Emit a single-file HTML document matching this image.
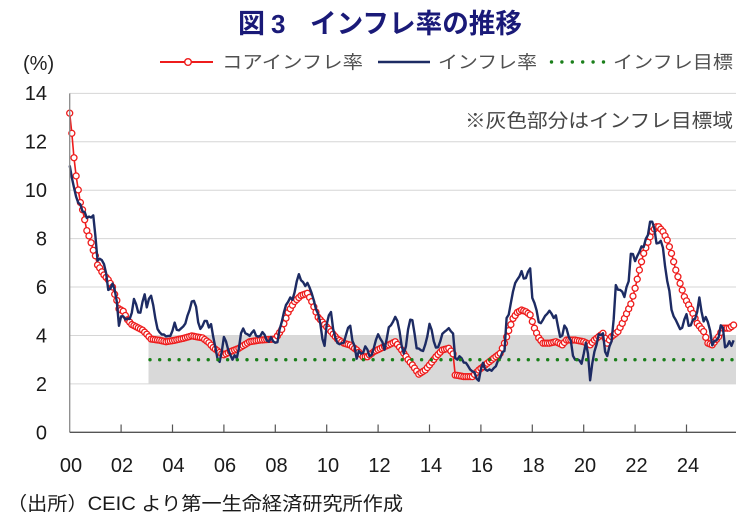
<!DOCTYPE html>
<html><head><meta charset="utf-8"><style>
html,body{margin:0;padding:0;background:#fff;}
svg{display:block;}
text{font-family:"Liberation Sans","Noto Sans CJK JP",sans-serif;}
</style></head><body>
<svg id="s" width="750" height="529" viewBox="0 0 750 529" xmlns="http://www.w3.org/2000/svg">
<rect width="750" height="529" fill="#fff"/>
<!-- title -->
<text x="238" y="33" font-size="27" font-weight="bold" fill="#1a1a78">図</text>
<text x="271" y="33" font-size="26" font-weight="bold" fill="#1a1a78">3</text>
<text x="310" y="33" font-size="27" font-weight="bold" fill="#1a1a78" textLength="212" lengthAdjust="spacingAndGlyphs">インフレ率の推移</text>
<!-- legend -->
<text x="23" y="70" font-size="20" fill="#222">(%)</text>
<line x1="160" y1="62" x2="213" y2="62" stroke="#ee1c1c" stroke-width="2"/>
<circle cx="188" cy="62" r="3.3" fill="#fff" stroke="#ee1c1c" stroke-width="1.4"/>
<text x="222" y="68.5" font-size="18" fill="#505050" textLength="141" lengthAdjust="spacingAndGlyphs">コアインフレ率</text>
<line x1="378" y1="62" x2="430" y2="62" stroke="#1d2b63" stroke-width="2.4"/>
<text x="438" y="68.5" font-size="18" fill="#505050" textLength="99" lengthAdjust="spacingAndGlyphs">インフレ率</text>
<line x1="551.5" y1="62" x2="604" y2="62" stroke="#1a7f1a" stroke-width="3.4" stroke-linecap="round" stroke-dasharray="0 10.4"/>
<text x="613" y="68.5" font-size="18" fill="#505050" textLength="120" lengthAdjust="spacingAndGlyphs">インフレ目標</text>
<!-- gridlines -->
<g stroke="#d6d6d6" stroke-width="1">
<line x1="70" y1="93.4" x2="736" y2="93.4"/>
<line x1="70" y1="141.8" x2="736" y2="141.8"/>
<line x1="70" y1="190.2" x2="736" y2="190.2"/>
<line x1="70" y1="238.6" x2="736" y2="238.6"/>
<line x1="70" y1="287.0" x2="736" y2="287.0"/>
<line x1="70" y1="335.5" x2="736" y2="335.5"/>
<line x1="70" y1="383.9" x2="736" y2="383.9"/>
</g>
<!-- band -->
<rect x="148.5" y="335.5" width="587.5" height="48.4" fill="#d9d9d9"/>
<!-- note -->
<text x="465" y="127" font-size="19" fill="#454545" textLength="268" lengthAdjust="spacingAndGlyphs">※灰色部分はインフレ目標域</text>
<!-- y labels -->
<g font-size="20" fill="#1a1a1a" text-anchor="end">
<text x="47" y="100">14</text>
<text x="47" y="148.5">12</text>
<text x="47" y="197">10</text>
<text x="47" y="245.5">8</text>
<text x="47" y="294">6</text>
<text x="47" y="342.5">4</text>
<text x="47" y="391">2</text>
<text x="47" y="439.5">0</text>
</g>
<!-- x labels -->
<g font-size="20" fill="#1a1a1a" text-anchor="middle">
<text x="71" y="472">00</text>
<text x="122" y="472">02</text>
<text x="173.5" y="472">04</text>
<text x="225" y="472">06</text>
<text x="276.5" y="472">08</text>
<text x="328" y="472">10</text>
<text x="379.5" y="472">12</text>
<text x="431" y="472">14</text>
<text x="482" y="472">16</text>
<text x="533.5" y="472">18</text>
<text x="585" y="472">20</text>
<text x="636.5" y="472">22</text>
<text x="688" y="472">24</text>
</g>
<!-- footnote -->
<text x="7" y="510" font-size="19" fill="#1a1a1a" textLength="396" lengthAdjust="spacingAndGlyphs">（出所）CEIC より第一生命経済研究所作成</text>

<!-- data group -->
<g transform="matrix(2.141667 0 0 -24.21 69.7 432.3)" fill="none" stroke-linejoin="round">
<polyline id="corefb1" vector-effect="non-scaling-stroke" stroke="#ee1c1c" stroke-width="7.6" points="0,13.18 1,12.35 2,11.34 3,10.59 4,10.01 5,9.49 6,9.19 7,8.78 8,8.33 9,8.11 10,7.83 11,7.52 12,7.29 13,6.91 14,6.79 15,6.63 16,6.5 17,6.4 18,6.3 19,6.15 20,6.0 21,5.7 22,5.45 23,5.1 25,5.0 27,4.65 29,4.45 31,4.36 34,4.22 36,4.05 38,3.85 42,3.8 45,3.74 49,3.8 53,3.88 57,3.98 62,3.9 65,3.7 67,3.5 70,3.3 72,3.2 75,3.33 79,3.47 84,3.74 89,3.81 96,3.85 99,4.25 102,4.95 105,5.4 108,5.65 111,5.74 113,5.4 116,4.75 119,4.45 122,4.16 125,3.85 128,3.68 131,3.6 134,3.4 137,3.12 139,3.12 142,3.33 146,3.5 149,3.61 152,3.74 155,3.4 158,3.0 160,2.78 163,2.4 166,2.57 168,2.78 171,3.12 174,3.4 177,3.47 179,3.24 180,2.36 181,2.35 184,2.3 188,2.3 191,2.57 195,2.85 198,3.06 201,3.26 203,3.68 205,4.2 207,4.7 209,4.95 211,5.05 213,4.98 215,4.85 217,4.3 219,3.9 221,3.68 224,3.68 227,3.74 230,3.61 232,3.81 236,3.81 240,3.74 243,3.61 245,3.81 249,4.09 251,3.68 253,3.95 256,4.16 258,4.5 260,4.9 262,5.3 264,5.95 266,6.7 268,7.39 270,7.85 272,8.3 274,8.49 275,8.49 277,8.29 279,7.94 281,7.39 283,6.7 285,6.15 287,5.6 289,5.26 291,4.91 293,4.5 296,4.16 298,3.68 300,3.61 303,3.95 305,4.3 308,4.3 310,4.43"/>
<polyline id="corefb2" vector-effect="non-scaling-stroke" stroke="#fff" stroke-width="4.8" points="0,13.18 1,12.35 2,11.34 3,10.59 4,10.01 5,9.49 6,9.19 7,8.78 8,8.33 9,8.11 10,7.83 11,7.52 12,7.29 13,6.91 14,6.79 15,6.63 16,6.5 17,6.4 18,6.3 19,6.15 20,6.0 21,5.7 22,5.45 23,5.1 25,5.0 27,4.65 29,4.45 31,4.36 34,4.22 36,4.05 38,3.85 42,3.8 45,3.74 49,3.8 53,3.88 57,3.98 62,3.9 65,3.7 67,3.5 70,3.3 72,3.2 75,3.33 79,3.47 84,3.74 89,3.81 96,3.85 99,4.25 102,4.95 105,5.4 108,5.65 111,5.74 113,5.4 116,4.75 119,4.45 122,4.16 125,3.85 128,3.68 131,3.6 134,3.4 137,3.12 139,3.12 142,3.33 146,3.5 149,3.61 152,3.74 155,3.4 158,3.0 160,2.78 163,2.4 166,2.57 168,2.78 171,3.12 174,3.4 177,3.47 179,3.24 180,2.36 181,2.35 184,2.3 188,2.3 191,2.57 195,2.85 198,3.06 201,3.26 203,3.68 205,4.2 207,4.7 209,4.95 211,5.05 213,4.98 215,4.85 217,4.3 219,3.9 221,3.68 224,3.68 227,3.74 230,3.61 232,3.81 236,3.81 240,3.74 243,3.61 245,3.81 249,4.09 251,3.68 253,3.95 256,4.16 258,4.5 260,4.9 262,5.3 264,5.95 266,6.7 268,7.39 270,7.85 272,8.3 274,8.49 275,8.49 277,8.29 279,7.94 281,7.39 283,6.7 285,6.15 287,5.6 289,5.26 291,4.91 293,4.5 296,4.16 298,3.68 300,3.61 303,3.95 305,4.3 308,4.3 310,4.43"/>
</g>
<g id="circles"></g>
<g transform="matrix(2.141667 0 0 -24.21 69.7 432.3)" fill="none" stroke-linejoin="round">
<polyline vector-effect="non-scaling-stroke" stroke="#1d2b63" stroke-width="2.4" points="0,11.02 1,10.52 2,10.11 3,9.73 4,9.48 5,9.41 6,9.12 7,9.10 8,8.85 9,8.91 10,8.87 11,8.96 12,8.11 13,7.09 14,7.17 15,7.11 16,6.95 17,6.57 18,5.88 19,5.93 20,6.14 21,5.89 22,5.39 23,4.40 24,4.79 25,4.79 26,4.66 27,4.70 28,4.68 29,4.94 30,5.51 31,5.29 32,4.95 33,4.94 34,5.39 35,5.70 36,5.16 37,5.52 38,5.64 39,5.25 40,4.70 41,4.27 42,4.13 43,4.04 44,4.04 45,3.96 46,3.98 47,3.98 48,4.20 49,4.53 50,4.23 51,4.21 52,4.29 53,4.37 54,4.49 55,4.82 56,5.06 57,5.40 58,5.43 59,5.19 60,4.54 61,4.27 62,4.39 63,4.60 64,4.60 65,4.33 66,4.47 67,3.95 68,3.51 69,3.05 70,2.91 71,3.33 72,3.94 73,3.75 74,3.41 75,3.20 76,3.00 77,3.18 78,3.06 79,3.47 80,4.09 81,4.29 82,4.09 83,4.05 84,3.98 85,4.11 86,4.21 87,3.99 88,3.95 89,3.98 90,4.14 91,4.03 92,3.79 93,3.74 94,3.93 95,3.76 96,3.70 97,3.72 98,4.25 99,4.55 100,4.95 101,5.26 102,5.39 103,5.57 104,5.47 105,5.78 106,6.23 107,6.53 108,6.28 109,6.20 110,6.04 111,6.17 112,5.98 113,5.74 114,5.44 115,5.08 116,4.89 117,4.50 118,3.86 119,3.57 120,4.46 121,4.83 122,4.97 123,4.27 124,3.92 125,3.69 126,3.64 127,3.68 128,3.70 129,4.02 130,4.32 131,4.40 132,3.78 133,3.57 134,3.04 135,3.36 136,3.25 137,3.28 138,3.55 139,3.42 140,3.14 141,3.20 142,3.48 143,3.82 144,4.05 145,3.87 146,3.73 147,3.41 148,3.85 149,4.34 150,4.42 151,4.57 152,4.77 153,4.60 154,4.18 155,3.57 156,3.25 157,3.55 158,4.25 159,4.65 160,4.63 161,4.09 162,3.47 163,3.46 164,3.39 165,3.36 166,3.62 167,3.97 168,4.48 169,4.23 170,3.76 171,3.50 172,3.51 173,3.75 174,4.07 175,4.15 176,4.22 177,4.30 178,4.17 179,4.08 180,3.07 181,3.00 182,3.14 183,3.06 184,2.88 185,2.87 186,2.74 187,2.59 188,2.52 189,2.48 190,2.21 191,2.13 192,2.61 193,2.87 194,2.60 195,2.54 196,2.60 197,2.54 198,2.65 199,2.73 200,2.97 201,3.06 202,3.31 203,3.36 204,4.72 205,4.86 206,5.35 207,5.82 208,6.16 209,6.31 210,6.44 211,6.66 212,6.35 213,6.37 214,6.63 215,6.77 216,5.55 217,5.34 218,5.04 219,4.55 220,4.51 221,4.65 222,4.81 223,4.90 224,5.02 225,4.90 226,4.72 227,4.83 228,4.37 229,3.94 230,4.00 231,4.41 232,4.28 233,3.95 234,3.78 235,3.16 236,3.00 237,3.02 238,2.97 239,2.83 240,3.24 241,3.70 242,3.25 243,2.15 244,2.84 245,3.33 246,3.62 247,4.05 248,4.01 249,4.09 250,3.33 251,3.15 252,3.54 253,3.76 254,4.67 255,6.08 256,5.89 257,5.88 258,5.81 259,5.59 260,6.00 261,6.24 262,7.37 263,7.36 264,7.07 265,7.28 266,7.45 267,7.68 268,7.65 269,7.99 270,8.15 271,8.70 272,8.70 273,8.41 274,7.80 275,7.82 276,7.91 277,7.62 278,6.85 279,6.25 280,5.84 281,5.06 282,4.79 283,4.64 284,4.45 285,4.26 286,4.32 287,4.66 288,4.88 289,4.40 290,4.42 291,4.65 292,4.69 293,4.98 294,5.57 295,4.99 296,4.58 297,4.76 298,4.55 299,4.21 300,3.59 301,3.77 302,3.80 303,3.93 304,4.42 305,4.32 306,3.51 307,3.57 308,3.76 309,3.57 310,3.80"/>
</g>
<!-- target dotted -->
<line x1="150" y1="359.7" x2="736" y2="359.7" stroke="#1a7f1a" stroke-width="3.4" stroke-linecap="round" stroke-dasharray="0 9.7"/>
<!-- axes -->
<line x1="69.7" y1="93.4" x2="69.7" y2="432.3" stroke="#8a8a8a" stroke-width="1.3"/>
<line x1="69.7" y1="432.3" x2="736" y2="432.3" stroke="#555" stroke-width="1.3"/>
<g stroke="#555" stroke-width="1.2">
<line x1="121.1" y1="424.5" x2="121.1" y2="432.3"/>
<line x1="172.5" y1="424.5" x2="172.5" y2="432.3"/>
<line x1="223.9" y1="424.5" x2="223.9" y2="432.3"/>
<line x1="275.3" y1="424.5" x2="275.3" y2="432.3"/>
<line x1="326.7" y1="424.5" x2="326.7" y2="432.3"/>
<line x1="378.1" y1="424.5" x2="378.1" y2="432.3"/>
<line x1="429.5" y1="424.5" x2="429.5" y2="432.3"/>
<line x1="480.9" y1="424.5" x2="480.9" y2="432.3"/>
<line x1="532.3" y1="424.5" x2="532.3" y2="432.3"/>
<line x1="583.7" y1="424.5" x2="583.7" y2="432.3"/>
<line x1="635.1" y1="424.5" x2="635.1" y2="432.3"/>
<line x1="686.5" y1="424.5" x2="686.5" y2="432.3"/>
</g>
</svg>
<script>
(function(){
var K=[[0,13.18],[1,12.35],[2,11.34],[3,10.59],[4,10.01],[5,9.49],[6,9.19],[7,8.78],[8,8.33],[9,8.11],[10,7.83],[11,7.52],[12,7.29],[13,6.91],[14,6.79],[15,6.63],[16,6.5],[17,6.4],[18,6.3],[19,6.15],[20,6.0],[21,5.7],[22,5.45],[23,5.1],[25,5.0],[27,4.65],[29,4.45],[31,4.36],[34,4.22],[36,4.05],[38,3.85],[42,3.8],[45,3.74],[49,3.8],[53,3.88],[57,3.98],[62,3.9],[65,3.7],[67,3.5],[70,3.3],[72,3.2],[75,3.33],[79,3.47],[84,3.74],[89,3.81],[96,3.85],[99,4.25],[102,4.95],[105,5.4],[108,5.65],[111,5.74],[113,5.4],[116,4.75],[119,4.45],[122,4.16],[125,3.85],[128,3.68],[131,3.6],[134,3.4],[137,3.12],[139,3.12],[142,3.33],[146,3.5],[149,3.61],[152,3.74],[155,3.4],[158,3.0],[160,2.78],[163,2.4],[166,2.57],[168,2.78],[171,3.12],[174,3.4],[177,3.47],[179,3.24],[180,2.36],[181,2.35],[184,2.3],[188,2.3],[191,2.57],[195,2.85],[198,3.06],[201,3.26],[203,3.68],[205,4.2],[207,4.7],[209,4.95],[211,5.05],[213,4.98],[215,4.85],[217,4.3],[219,3.9],[221,3.68],[224,3.68],[227,3.74],[230,3.61],[232,3.81],[236,3.81],[240,3.74],[243,3.61],[245,3.81],[249,4.09],[251,3.68],[253,3.95],[256,4.16],[258,4.5],[260,4.9],[262,5.3],[264,5.95],[266,6.7],[268,7.39],[270,7.85],[272,8.3],[274,8.49],[275,8.49],[277,8.29],[279,7.94],[281,7.39],[283,6.7],[285,6.15],[287,5.6],[289,5.26],[291,4.91],[293,4.5],[296,4.16],[298,3.68],[300,3.61],[303,3.95],[305,4.3],[308,4.3],[310,4.43]];
function val(m){for(var i=0;i<K.length-1;i++){if(m>=K[i][0]&&m<=K[i+1][0]){var t=(m-K[i][0])/(K[i+1][0]-K[i][0]);return K[i][1]+t*(K[i+1][1]-K[i][1]);}}return K[K.length-1][1];}
var NS="http://www.w3.org/2000/svg";
var g=document.getElementById("circles");
var pts=[];
for(var m=0;m<=310;m++){var x=69.7+m*25.7/12,y=432.3-val(m)*24.21;pts.push(x.toFixed(2)+","+y.toFixed(2));}
var pl=document.createElementNS(NS,"polyline");
pl.setAttribute("points",pts.join(" "));pl.setAttribute("fill","none");pl.setAttribute("stroke","#ee1c1c");pl.setAttribute("stroke-width","1.6");
g.appendChild(pl);
for(var i=0;i<pts.length;i++){var p=pts[i].split(",");var c=document.createElementNS(NS,"circle");
c.setAttribute("cx",p[0]);c.setAttribute("cy",p[1]);c.setAttribute("r","3.0");c.setAttribute("fill","#fff");c.setAttribute("stroke","#ee1c1c");c.setAttribute("stroke-width","1.3");g.appendChild(c);}
var f1=document.getElementById("corefb1"),f2=document.getElementById("corefb2");
f1.parentNode.removeChild(f1);f2.parentNode.removeChild(f2);
})();
</script>
</body></html>
